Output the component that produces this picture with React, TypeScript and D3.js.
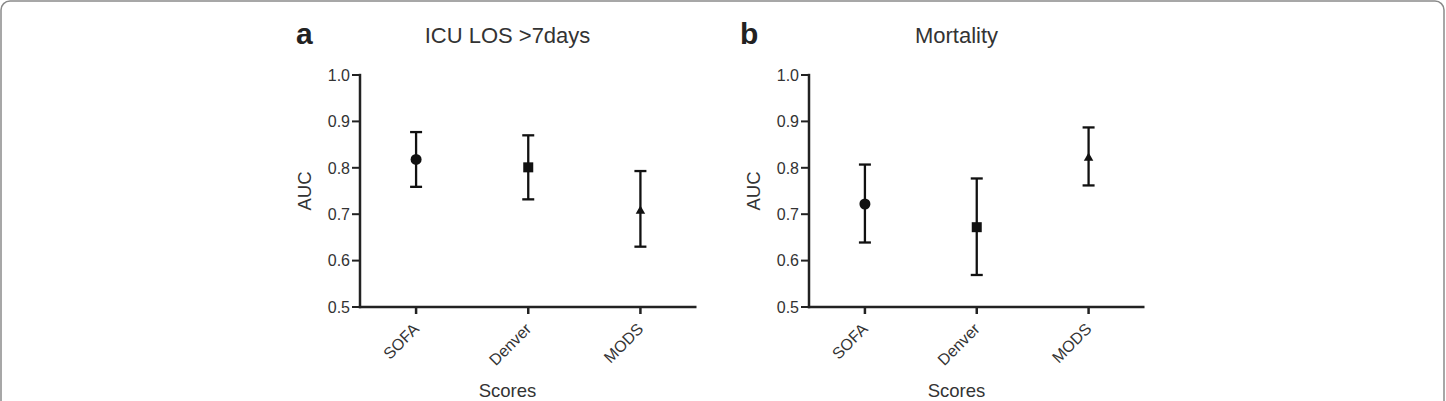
import React from "react";
import * as d3 from "d3";

const categories = ["SOFA", "Denver", "MODS"];
const markers = ["circle", "square", "triangle"];
const yTicks = [0.5, 0.6, 0.7, 0.8, 0.9, 1.0];

const panelLetters = ["a", "b"];
const panelTitles = ["ICU LOS >7days", "Mortality"];

const losMean = [0.818, 0.801, 0.707];
const losLow = [0.759, 0.732, 0.63];
const losHigh = [0.877, 0.87, 0.793];

const mortMean = [0.722, 0.672, 0.821];
const mortLow = [0.639, 0.569, 0.762];
const mortHigh = [0.807, 0.777, 0.887];

const panelMeans = [losMean, mortMean];
const panelLows = [losLow, mortLow];
const panelHighs = [losHigh, mortHigh];

const W = 1446;
const H = 401;
const FONT = "'Liberation Sans', Arial, Helvetica, sans-serif";

const panelLayout = [
  { x0: 360, x1: 696.5, letterX: 296 },
  { x0: 809, x1: 1144.5, letterX: 740 },
];
const yTop = 75;
const yBottom = 307;

function Marker({ type, cx, cy }: { type: string; cx: number; cy: number }) {
  if (type === "circle") return <circle cx={cx} cy={cy} r={5.5} fill="#111" />;
  if (type === "square")
    return <rect x={cx - 5} y={cy - 5} width={10} height={10} fill="#111" />;
  const s = 9.5;
  const h = (s * Math.sqrt(3)) / 2;
  const pts = [
    [cx, cy - (2 * h) / 3],
    [cx - s / 2, cy + h / 3],
    [cx + s / 2, cy + h / 3],
  ];
  return <polygon points={pts.map((p) => p.join(",")).join(" ")} fill="#111" />;
}

function Panel({ idx }: { idx: number }) {
  const { x0, x1, letterX } = panelLayout[idx];
  const x = d3.scalePoint<string>().domain(categories).range([x0, x1]).padding(0.5);
  const y = d3.scaleLinear().domain([0.5, 1.0]).range([yBottom, yTop]);
  const means = panelMeans[idx];
  const lows = panelLows[idx];
  const highs = panelHighs[idx];
  const cx = x0 + 147.5;
  const axisColor = "#222";
  const textColor = "#333";
  return (
    <g>
      <text x={letterX} y={44} fontFamily={FONT} fontWeight="bold" fontSize={30} fill="#222">
        {panelLetters[idx]}
      </text>
      <text x={cx} y={43} fontFamily={FONT} fontSize={22} fill={textColor} textAnchor="middle">
        {panelTitles[idx]}
      </text>
      {/* y axis */}
      <line x1={x0} x2={x0} y1={yTop - 1.2} y2={yBottom + 1.2} stroke={axisColor} strokeWidth={2.5} />
      {yTicks.map((t) => (
        <g key={t}>
          <line x1={x0 - 8} x2={x0} y1={y(t)} y2={y(t)} stroke={axisColor} strokeWidth={2} />
          <text
            x={x0 - 10}
            y={y(t)}
            dy="0.36em"
            fontFamily={FONT}
            fontSize={16}
            fill={textColor}
            textAnchor="end"
          >
            {d3.format(".1f")(t)}
          </text>
        </g>
      ))}
      {/* x axis */}
      <line x1={x0 - 1.2} x2={x1} y1={yBottom} y2={yBottom} stroke={axisColor} strokeWidth={2.5} />
      {categories.map((c) => (
        <g key={c}>
          <line x1={x(c)!} x2={x(c)!} y1={yBottom} y2={yBottom + 7} stroke={axisColor} strokeWidth={2.5} />
          <text
            transform={`translate(${x(c)! + 4},${yBottom + 23}) rotate(-45)`}
            fontFamily={FONT}
            fontSize={16}
            fill={textColor}
            textAnchor="end"
          >
            {c}
          </text>
        </g>
      ))}
      <text
        transform={`translate(${x0 - 49},${(yTop + yBottom) / 2}) rotate(-90)`}
        fontFamily={FONT}
        fontSize={18.5}
        fill={textColor}
        textAnchor="middle"
      >
        AUC
      </text>
      <text x={cx} y={397} fontFamily={FONT} fontSize={18.5} fill={textColor} textAnchor="middle">
        Scores
      </text>
      {/* error bars */}
      {categories.map((c, i) => {
        const px = x(c)!;
        return (
          <g key={c}>
            <line x1={px} x2={px} y1={y(highs[i])} y2={y(lows[i])} stroke="#111" strokeWidth={2.3} />
            <line x1={px - 6} x2={px + 6} y1={y(highs[i])} y2={y(highs[i])} stroke="#111" strokeWidth={2.3} />
            <line x1={px - 6} x2={px + 6} y1={y(lows[i])} y2={y(lows[i])} stroke="#111" strokeWidth={2.3} />
            <Marker type={markers[i]} cx={px} cy={y(means[i])} />
          </g>
        );
      })}
    </g>
  );
}

export default function App() {
  return (
    <svg
      width={W}
      height={H}
      style={{ position: "absolute", left: 0, top: 0, background: "#fff" }}
    >
      <rect x={1} y={1} width={W - 3} height={H + 40} rx={9} fill="#fff" stroke="#8a8a8a" strokeWidth={1.5} />
      <Panel idx={0} />
      <Panel idx={1} />
    </svg>
  );
}
